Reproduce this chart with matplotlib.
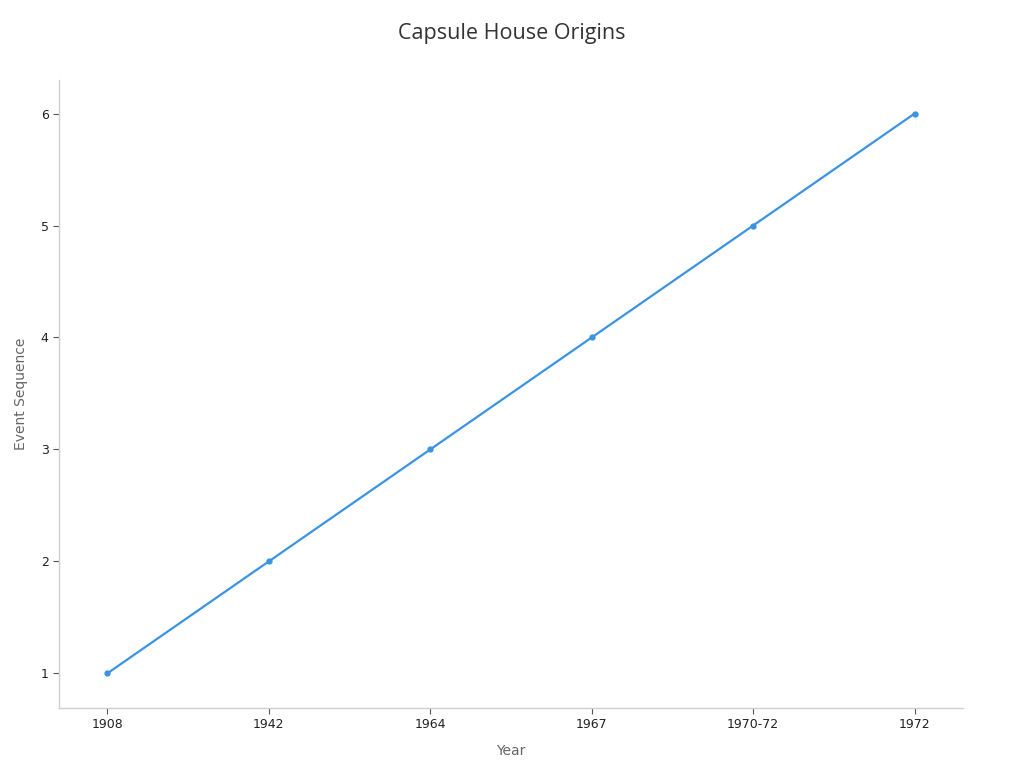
import matplotlib
matplotlib.use("Agg")
import matplotlib.pyplot as plt

# Data
years = ["1908", "1942", "1964", "1967", "1970-72", "1972"]
sequence = [1, 2, 3, 4, 5, 6]

plt.rcParams['font.family'] = ['DejaVu Sans']

fig = plt.figure(figsize=(10.24, 7.68), dpi=100)
ax = fig.add_axes([0.0576, 0.0781, 0.8828, 0.8177])

x = list(range(len(years)))
ax.plot(x, sequence, color="#3a93e3", linewidth=1.6, marker="o", markersize=3.5)

ax.set_xticks(x)
ax.set_xticklabels(years)
ax.set_xlim(-0.30, 5.30)
ax.set_ylim(0.69, 6.30)
ax.set_yticks([1, 2, 3, 4, 5, 6])

for side in ["top", "right"]:
    ax.spines[side].set_visible(False)
for side in ["left", "bottom"]:
    ax.spines[side].set_color("#d0d0d0")
    ax.spines[side].set_linewidth(1.0)

ax.tick_params(axis="both", colors="#555555", labelcolor="#222222", labelsize=9, length=4)

ax.set_xlabel("Year", fontsize=10, color="#666666", labelpad=9)
ax.set_ylabel("Event Sequence", fontsize=10, color="#666666", labelpad=9)
fig.text(0.5, 0.956, "Capsule House Origins", ha="center", va="center",
         fontsize=15.5, color="#333333", family="Open Sans")

fig.savefig("out.png", dpi=100)
